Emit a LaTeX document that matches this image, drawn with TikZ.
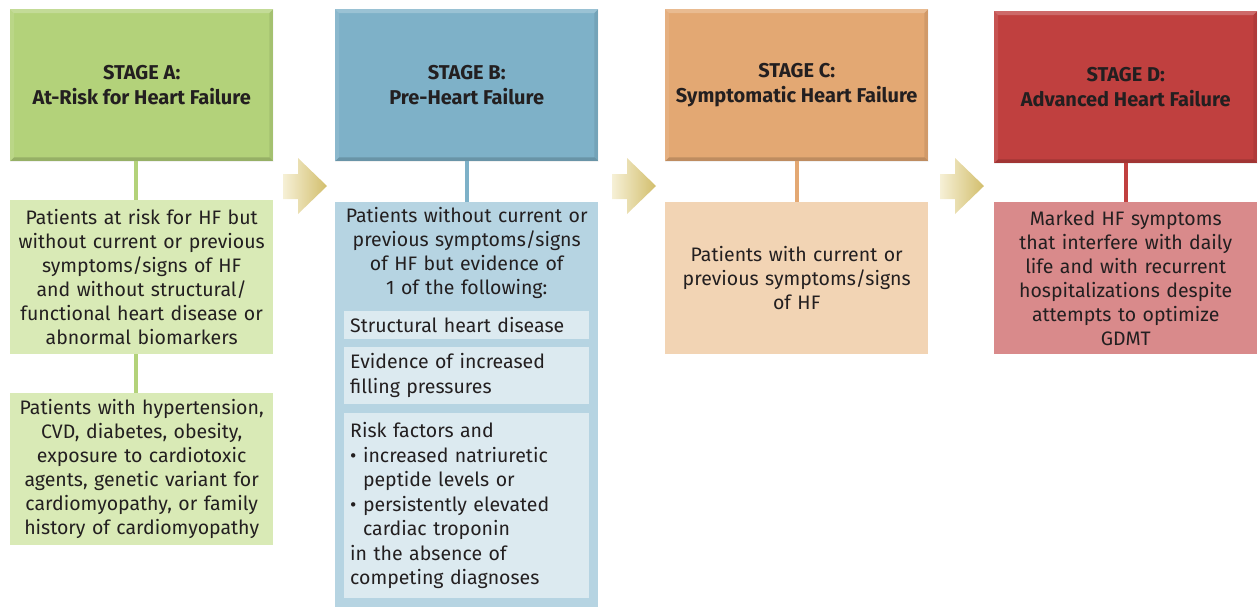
\documentclass[tikz,border=0pt]{standalone}
\usepackage{fontspec}
\setmainfont{Fira Sans}
\usetikzlibrary{positioning}
\tikzstyle{diagram} = [x = 1pt, y = -1pt]
\definecolor{textColor}{HTML}{231F20}
\definecolor{stageAColor}{HTML}{B3D27A}
\definecolor{stageALight}{HTML}{D9EAB6}
\definecolor{stageBColor}{HTML}{7EB1C8}
\definecolor{stageBLight}{HTML}{B6D4E2}
\definecolor{stageBPale}{HTML}{DCEAF0}
\definecolor{stageCColor}{HTML}{E3A873}
\definecolor{stageCLight}{HTML}{F2D4B4}
\definecolor{stageDColor}{HTML}{C0403F}
\definecolor{stageDLight}{HTML}{D98A8B}
\definecolor{arrowGold}{HTML}{D2BE6C}
\definecolor{arrowLight}{HTML}{F6F0D6}
\tikzstyle{headerStyle} = [anchor=north west, minimum width=263pt, minimum height=152pt, inner sep=0pt, align=center, text=textColor, font=\bfseries\fontsize{20}{25}\selectfont]
\tikzstyle{boxStyle} = [anchor=north west, minimum width=263pt, inner sep=0pt, text width=259pt, align=center, text=textColor, font=\fontsize{19.5}{24}\selectfont]
\tikzstyle{subBoxStyle} = [anchor=north west, minimum width=245pt, inner xsep=6pt, inner ysep=0pt, text width=233pt, align=left, fill=stageBPale, text=textColor, font=\fontsize{19.5}{24.5}\selectfont]
\tikzstyle{linkStyle} = [line width=4pt]
\newcommand{\bevel}[1]{
  \fill [white, opacity=.22] (#1.north west) -- (#1.north east) -- ([shift={(-4,4)}]#1.north east) -- ([shift={(4,4)}]#1.north west) -- cycle;
  \fill [white, opacity=.10] (#1.north west) -- (#1.south west) -- ([shift={(4,-4)}]#1.south west) -- ([shift={(4,4)}]#1.north west) -- cycle;
  \fill [black, opacity=.08] (#1.north east) -- (#1.south east) -- ([shift={(-4,-4)}]#1.south east) -- ([shift={(-4,4)}]#1.north east) -- cycle;
  \fill [black, opacity=.16] (#1.south west) -- (#1.south east) -- ([shift={(-4,-4)}]#1.south east) -- ([shift={(4,-4)}]#1.south west) -- cycle;
}
\newcommand{\stageArrow}[1]{\shade [left color=arrowLight, right color=arrowGold] (#1,174) -- (#1 + 15,174) -- (#1 + 15,158) -- (#1 + 44,186) -- (#1 + 15,214) -- (#1 + 15,199) -- (#1,199) -- cycle;}

\begin{document}
\begin{tikzpicture}[diagram]
  \useasboundingbox (0,0) rectangle (1258,606);
  % stage A
  \node [headerStyle, fill=stageAColor] (hdrA) at (10,9) {STAGE A:\\At-Risk for Heart Failure};
  \bevel{hdrA}
  \node [boxStyle, fill=stageALight, minimum height=154pt] (boxA) at (10,200) {Patients at risk for HF but\\without current or previous\\symptoms/signs of HF\\and without structural/\\functional heart disease or\\abnormal biomarkers};
  \node [boxStyle, fill=stageALight, minimum height=152pt] (riskA) at (10,393) {Patients with hypertension,\\CVD, diabetes, obesity,\\exposure to cardiotoxic\\agents, genetic variant for\\cardiomyopathy, or family\\history of cardiomyopathy};
  \draw [linkStyle, stageAColor] ([xshift=-6pt]hdrA.south) -- ([xshift=-6pt]boxA.north);
  \draw [linkStyle, stageAColor] ([xshift=-6pt]boxA.south) -- ([xshift=-6pt]riskA.north);
  % stage B
  \node [headerStyle, fill=stageBColor] (hdrB) at (335,9) {STAGE B:\\Pre-Heart Failure};
  \bevel{hdrB}
  \node [boxStyle, fill=stageBLight, minimum height=410pt] (boxB) at (335,202) {};
  \node [boxStyle, anchor=north, inner ysep=5pt] (textB) at (boxB.north) {Patients without current or\\previous symptoms/signs\\of HF but evidence of\\1 of the following:};
  \node [subBoxStyle, minimum height=28pt] (structB) at (344,311) {Structural heart disease};
  \node [subBoxStyle, minimum height=57pt] (fillingB) at (344,347) {Evidence of increased\\filling pressures};
  \node [subBoxStyle, minimum height=185pt] (markerB) at (344,413) {Risk factors and\\\textbullet\ increased natriuretic\\\phantom{\textbullet\ }peptide levels or\\\textbullet\ persistently elevated\\\phantom{\textbullet\ }cardiac troponin\\in the absence of\\competing diagnoses};
  \draw [linkStyle, stageBColor] (hdrB) -- (boxB);
  % stage C
  \node [headerStyle, fill=stageCColor] (hdrC) at (665,9) {STAGE C:\\Symptomatic Heart Failure};
  \bevel{hdrC}
  \node [boxStyle, fill=stageCLight, minimum height=152pt] (boxC) at (665,202) {Patients with current or\\previous symptoms/signs\\of HF};
  \draw [linkStyle, stageCColor] (hdrC) -- (boxC);
  % stage D
  \node [headerStyle, fill=stageDColor] (hdrD) at (994,11) {STAGE D:\\Advanced Heart Failure};
  \bevel{hdrD}
  \node [boxStyle, fill=stageDLight, minimum height=152pt] (boxD) at (994,202) {Marked HF symptoms\\that interfere with daily\\life and with recurrent\\hospitalizations despite\\attempts to optimize\\GDMT};
  \draw [linkStyle, stageDColor] (hdrD) -- (boxD);
  % arrows between stages
  \stageArrow{283}
  \stageArrow{612}
  \stageArrow{940}
\end{tikzpicture}
\end{document}
